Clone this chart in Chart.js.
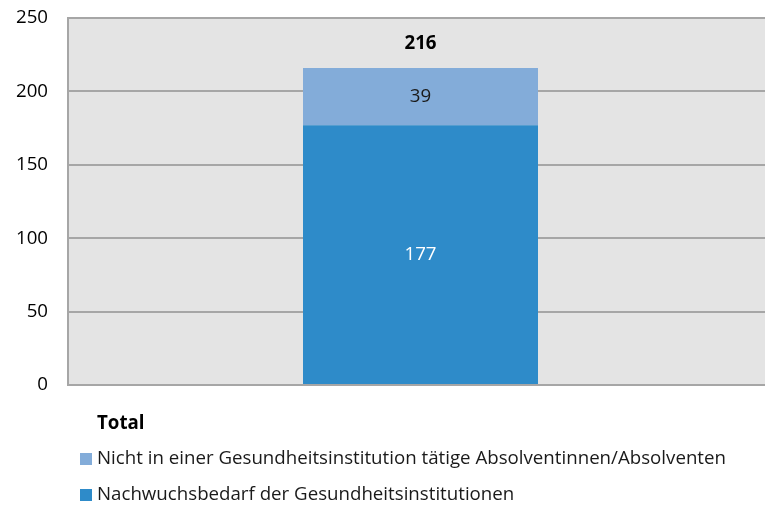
<!DOCTYPE html>
<html>
<head>
<meta charset="utf-8">
<script src="https://cdn.jsdelivr.net/npm/chart.js@4/dist/chart.umd.min.js"></script>
<style>
  html, body { margin: 0; padding: 0; background: #fff; overflow: hidden; }
  #wrap { position: relative; width: 773px; height: 506px; }
</style>
</head>
<body>
<div id="wrap"><canvas id="chart"></canvas></div>
<script>
'use strict';

// ---- data ---------------------------------------------------
const categories = ['Total'];
const seriesLabels = [
    'Nachwuchsbedarf der Gesundheitsinstitutionen',
    'Nicht in einer Gesundheitsinstitution tätige Absolventinnen/Absolventen',
];
const bedarfValues = [177];
const nichtTaetigValues = [39];
const yTicks = [0, 50, 100, 150, 200, 250];

const FONT = "'Open Sans', sans-serif";
const FSIZE = 18.7;
const COLORS = ['#2e8bc9', '#83acd9'];
const LABEL_COLORS = ['#ffffff', '#1a1a1a'];

// plot background + custom labels / legend
const decorPlugin = {
    id: 'decor',
    beforeDraw(chart) {
        const { ctx, chartArea: a } = chart;
        ctx.save();
        ctx.fillStyle = '#e4e4e4';
        ctx.fillRect(a.left, a.top, a.right - a.left, a.bottom - a.top);
        ctx.restore();
    },
    afterDatasetsDraw(chart) {
        const { ctx } = chart;
        ctx.save();
        ctx.textAlign = 'center';
        ctx.textBaseline = 'middle';
        ctx.font = FSIZE + 'px ' + FONT;
        chart.data.datasets.forEach((ds, i) => {
            const meta = chart.getDatasetMeta(i);
            meta.data.forEach((bar, j) => {
                const mid = (bar.y + bar.base) / 2;
                ctx.fillStyle = LABEL_COLORS[i];
                ctx.fillText(ds.data[j], bar.x, mid);
            });
        });
        // totals on top of stack
        const last = chart.getDatasetMeta(chart.data.datasets.length - 1);
        ctx.font = 'bold ' + FSIZE + 'px ' + FONT;
        ctx.fillStyle = '#000';
        categories.forEach((c, j) => {
            const total = chart.data.datasets.reduce((s, ds) => s + ds.data[j], 0);
            const bar = last.data[j];
            ctx.fillText(total, bar.x, bar.y - 24);
        });
        ctx.restore();
    },
    afterDraw(chart) {
        const { ctx, chartArea: a } = chart;
        ctx.save();
        ctx.textBaseline = 'middle';
        ctx.textAlign = 'left';
        // category name
        ctx.font = 'bold ' + FSIZE + 'px ' + FONT;
        ctx.fillStyle = '#000';
        ctx.fillText(categories[0], 97, a.bottom + 39);
        // legend, top series first
        ctx.font = FSIZE + 'px ' + FONT;
        const order = [1, 0];
        order.forEach((i, row) => {
            const y = a.bottom + 74 + row * 36;
            ctx.fillStyle = COLORS[i];
            ctx.fillRect(80, y - 6, 12, 12);
            ctx.fillStyle = '#1a1a1a';
            ctx.fillText(seriesLabels[i], 97, y);
        });
        ctx.restore();
    },
};

new Chart(document.getElementById('chart'), {
    type: 'bar',
    data: {
        labels: categories,
        datasets: [
            {
                label: seriesLabels[0],
                data: bedarfValues,
                backgroundColor: COLORS[0],
                borderWidth: 0,
                barPercentage: 1 / 3,
                categoryPercentage: 1,
            },
            {
                label: seriesLabels[1],
                data: nichtTaetigValues,
                backgroundColor: COLORS[1],
                borderWidth: 0,
                barPercentage: 1 / 3,
                categoryPercentage: 1,
            },
        ],
    },
    options: {
        responsive: true,
        maintainAspectRatio: false,
        animation: false,
        layout: { padding: { top: 18, right: 0, bottom: 121, left: 0 } },
        plugins: {
            legend: { display: false },
            tooltip: { enabled: false },
        },
        scales: {
            x: {
                stacked: true,
                display: false,
            },
            y: {
                stacked: true,
                min: 0,
                max: 250,
                afterFit(scale) {
                    scale.width = 68;
                    scale.paddingTop = 0;
                    scale.paddingBottom = 0;
                },
                afterBuildTicks(scale) { scale.ticks = yTicks.map(v => ({ value: v })); },
                grid: { color: '#a6a6a6', lineWidth: 2, drawTicks: false },
                border: { display: true, color: '#a6a6a6', width: 2 },
                ticks: {
                    font: { family: FONT, size: FSIZE },
                    color: '#000',
                    padding: 20,
                },
            },
        },
    },
    plugins: [decorPlugin],
});
</script>
</body>
</html>
